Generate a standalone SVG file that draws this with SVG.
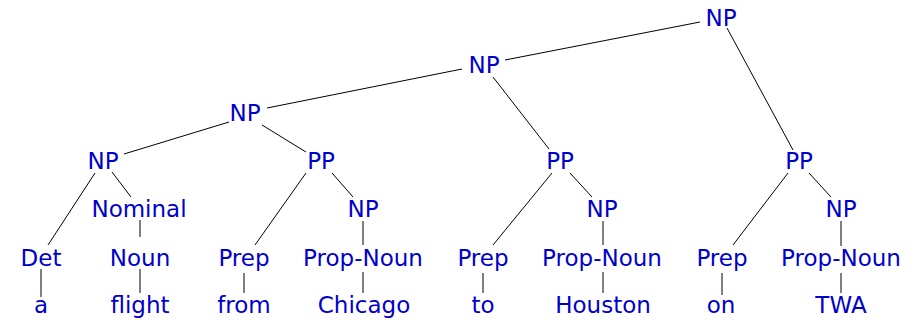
<svg xmlns="http://www.w3.org/2000/svg" width="915" height="320" viewBox="0 0 915 320">
<style>
text{font-family:"DejaVu Sans",sans-serif;font-size:23px;fill:#0000cc;text-anchor:middle}
.e line{stroke:#000;stroke-width:1}
</style>
<rect width="915" height="320" fill="#fff"/>
<g class="e" id="connectors">
<line x1="700" y1="22" x2="505" y2="60"/>
<line x1="727" y1="28" x2="793" y2="150"/>
<line x1="462" y1="69" x2="267" y2="108"/>
<line x1="493" y1="77" x2="549" y2="149"/>
<line x1="229" y1="122" x2="124" y2="154"/>
<line x1="262" y1="125" x2="306" y2="152"/>
<line x1="95" y1="173" x2="48" y2="245"/>
<line x1="112" y1="172" x2="131" y2="197"/>
<line x1="140" y1="220" x2="140" y2="237"/>
<line x1="140" y1="269" x2="140" y2="293"/>
<line x1="41" y1="269" x2="41" y2="297"/>
<line x1="306" y1="173" x2="255" y2="245"/>
<line x1="332" y1="173" x2="353" y2="197"/>
<line x1="363" y1="221" x2="363" y2="245"/>
<line x1="363" y1="272" x2="363" y2="293"/>
<line x1="244" y1="273" x2="244" y2="293"/>
<line x1="552" y1="173" x2="493" y2="245"/>
<line x1="570" y1="173" x2="592" y2="197"/>
<line x1="603" y1="221" x2="603" y2="245"/>
<line x1="603" y1="272" x2="603" y2="293"/>
<line x1="483" y1="273" x2="483" y2="293"/>
<line x1="788" y1="173" x2="733" y2="245"/>
<line x1="809" y1="173" x2="831" y2="197"/>
<line x1="841" y1="221" x2="841" y2="246"/>
<line x1="841" y1="273" x2="841" y2="293"/>
<line x1="722" y1="273" x2="722" y2="295"/>
</g>
<g id="np0"><text x="721" y="26">NP</text></g>
<g id="np1"><text x="484" y="73">NP</text></g>
<g id="np2"><text x="245" y="121">NP</text></g>
<g id="np3"><text x="103" y="169">NP</text></g>
<g id="pp1"><text x="321" y="169">PP</text></g>
<g id="pp2"><text x="560" y="169">PP</text></g>
<g id="pp3"><text x="799" y="169">PP</text></g>
<g id="nominal"><text x="139" y="217">Nominal</text></g>
<g id="np4"><text x="363" y="217">NP</text></g>
<g id="np5"><text x="602" y="217">NP</text></g>
<g id="np6"><text x="841" y="217">NP</text></g>
<g id="det"><text x="41" y="266">Det</text></g>
<g id="noun"><text x="140" y="266">Noun</text></g>
<g id="prep1"><text x="244" y="266">Prep</text></g>
<g id="propnoun1"><text x="363" y="266">Prop-Noun</text></g>
<g id="prep2"><text x="483" y="266">Prep</text></g>
<g id="propnoun2"><text x="602" y="266">Prop-Noun</text></g>
<g id="prep3"><text x="722" y="266">Prep</text></g>
<g id="propnoun3"><text x="841" y="266">Prop-Noun</text></g>
<g id="w-a"><text x="41" y="313">a</text></g>
<g id="w-flight"><text x="140" y="313">flight</text></g>
<g id="w-from"><text x="244" y="313">from</text></g>
<g id="w-chicago"><text x="364" y="313">Chicago</text></g>
<g id="w-to"><text x="483" y="313">to</text></g>
<g id="w-houston"><text x="603" y="313">Houston</text></g>
<g id="w-on"><text x="721" y="313">on</text></g>
<g id="w-twa"><text x="841" y="313">TWA</text></g>
</svg>
